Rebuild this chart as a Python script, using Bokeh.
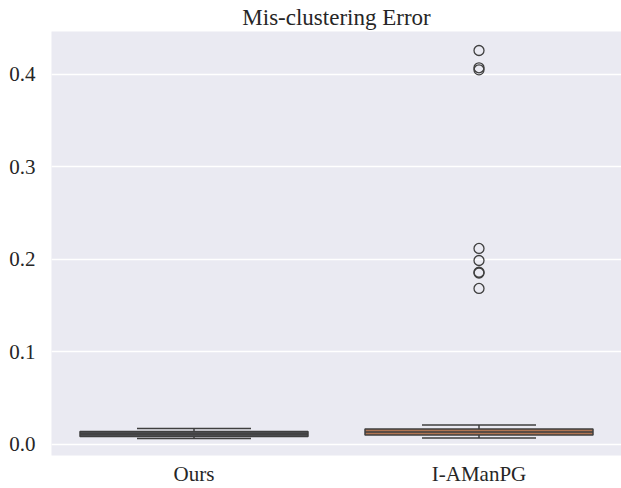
from bokeh.plotting import figure
from bokeh.models import Range1d, FixedTicker, PrintfTickFormatter, ColumnDataSource
from bokeh.embed import file_html
from bokeh.resources import INLINE

categories = ["Ours", "I-AManPG"]
whisker_low = [0.0065, 0.0070]
q1 = [0.0086, 0.0103]
median = [0.0113, 0.0135]
q3 = [0.0140, 0.0167]
whisker_high = [0.0173, 0.0211]
box_colors = ["#4f5054", "#b07553"]
outlier_x = ["I-AManPG"] * 8
outlier_y = [0.4255, 0.4068, 0.4046, 0.2117, 0.1987, 0.1860, 0.1852, 0.1685]
y_ticks = [0.0, 0.1, 0.2, 0.3, 0.4]

SERIF = "Liberation Serif"
EDGE = "#3f3f3f"

xpos = list(range(len(categories)))
bw = 0.8
cw = 0.4

p = figure(width=621, height=488, output_backend="svg", toolbar_location=None,
           x_range=Range1d(-0.5, 1.5), y_range=Range1d(-0.0119, 0.446),
           min_border_left=51, min_border_right=0, min_border_bottom=33, min_border_top=31)
p.background_fill_color = "#eaeaf2"
p.border_fill_color = "white"
p.outline_line_color = None

p.title.text = "Mis-clustering Error"
p.title.align = "center"
p.title.text_font = SERIF
p.title.text_font_size = "23px"
p.title.text_font_style = "normal"
p.title.text_color = "#262626"
p.title.standoff = 3

p.xgrid.grid_line_color = None
p.ygrid.grid_line_color = "white"
p.ygrid.grid_line_width = 1.3
p.ygrid.ticker = FixedTicker(ticks=y_ticks)

p.yaxis.ticker = FixedTicker(ticks=y_ticks)
p.yaxis.formatter = PrintfTickFormatter(format="%.1f")
p.xaxis.ticker = FixedTicker(ticks=xpos)
p.xaxis.major_label_overrides = {i: c for i, c in enumerate(categories)}
for ax in (p.xaxis, p.yaxis):
    ax.axis_line_color = None
    ax.major_tick_line_color = None
    ax.minor_tick_line_color = None
    ax.major_tick_out = 0
    ax.major_tick_in = 0
    ax.minor_tick_out = 0
    ax.minor_tick_in = 0
    ax.major_label_text_font = SERIF
    ax.major_label_text_font_size = "21px"
    ax.major_label_text_color = "#262626"
p.xaxis.major_label_standoff = 6
p.yaxis.major_label_standoff = 16

src = ColumnDataSource(dict(
    x=xpos,
    left=[x - bw / 2 for x in xpos], right=[x + bw / 2 for x in xpos],
    cl=[x - cw / 2 for x in xpos], cr=[x + cw / 2 for x in xpos],
    lo=whisker_low, q1=q1, med=median, q3=q3, hi=whisker_high, color=box_colors,
))

# whiskers
p.segment(x0="x", y0="lo", x1="x", y1="q1", source=src, line_color=EDGE, line_width=1.5)
p.segment(x0="x", y0="q3", x1="x", y1="hi", source=src, line_color=EDGE, line_width=1.5)
# caps
p.segment(x0="cl", y0="lo", x1="cr", y1="lo", source=src, line_color=EDGE, line_width=1.5)
p.segment(x0="cl", y0="hi", x1="cr", y1="hi", source=src, line_color=EDGE, line_width=1.5)
# boxes
p.quad(left="left", right="right", bottom="q1", top="q3", source=src,
       fill_color="color", line_color=EDGE, line_width=1.5)
# medians
p.segment(x0="left", y0="med", x1="right", y1="med", source=src, line_color=EDGE, line_width=1.5)

# outliers
ox = [categories.index(c) for c in outlier_x]
p.scatter(ox, outlier_y, marker="circle", size=10, fill_color=None,
          line_color=EDGE, line_width=1.3)

open("out.html", "w").write(file_html(p, INLINE))
